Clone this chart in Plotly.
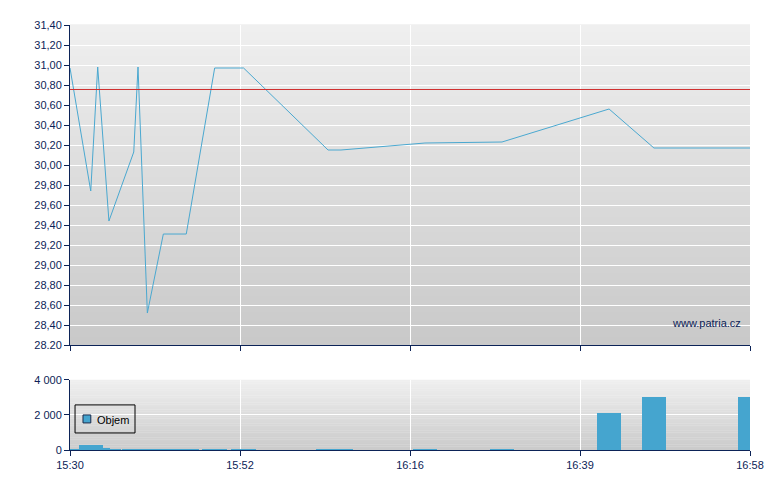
import plotly.graph_objects as go
from plotly.subplots import make_subplots

# x positions in axis units (0..4 correspond to the tick labels below)
pos = [0.000, 0.122, 0.163, 0.229, 0.375, 0.400, 0.455, 0.549, 0.684,
       0.851, 1.021, 1.518, 1.594, 2.088, 2.541, 3.171, 3.435, 4.000]
price = [30.97, 29.74, 30.98, 29.44, 30.13, 30.98, 28.52, 29.31, 29.31,
         30.97, 30.97, 30.15, 30.15, 30.22, 30.23, 30.56, 30.17, 30.17]
volume = [50, 290, 110, 50, 50, 50, 50, 50, 50,
          50, 50, 50, 50, 50, 50, 2130, 3050, 3050]
ref_price = 30.755

x_tickvals = [0, 1, 2, 3, 4]
x_ticktext = ["15:30", "15:52", "16:16", "16:39", "16:58"]
y_tickvals = [28.2, 28.4, 28.6, 28.8, 29.0, 29.2, 29.4, 29.6, 29.8,
              30.0, 30.2, 30.4, 30.6, 30.8, 31.0, 31.2, 31.4]
y_ticktext = ["28.20", "28,40", "28,60", "28,80", "29,00", "29,20", "29,40",
              "29,60", "29,80", "30,00", "30,20", "30,40", "30,60", "30,80",
              "31,00", "31,20", "31,40"]
v_tickvals = [0, 2000, 4000]
v_ticktext = ["0", "2 000", "4 000"]
legend_label = "Objem"

NAVY = "#0c2357"
LINE = "#4aa8d0"
BAR = "#45a5cf"

fig = make_subplots(rows=2, cols=1, row_heights=[0.835, 0.165],
                    vertical_spacing=0.0, shared_xaxes=False)

fig.add_trace(go.Scatter(x=pos, y=price, mode="lines",
                         line=dict(color=LINE, width=1), showlegend=False),
              row=1, col=1)
fig.add_trace(go.Scatter(x=[0, 4], y=[ref_price, ref_price], mode="lines",
                         line=dict(color="#d03030", width=1), showlegend=False),
              row=1, col=1)
fig.add_trace(go.Bar(x=pos, y=volume, width=0.144, name=legend_label,
                     marker=dict(color=BAR, line=dict(width=0)),
                     showlegend=False),
              row=2, col=1)

# gradient backgrounds
def gradient(xref, yref, top, bottom, n=40):
    for i in range(n):
        t = i / (n - 1)
        c = [round(top[k] + (bottom[k] - top[k]) * t) for k in range(3)]
        fig.add_shape(type="rect", xref=xref, yref=yref,
                      x0=0, x1=1, y0=1 - (i + 1) / n, y1=1 - i / n + 0.002,
                      fillcolor="rgb(%d,%d,%d)" % tuple(c),
                      line=dict(width=0), layer="below")

gradient("x domain", "y domain", (239, 239, 239), (201, 201, 201))
gradient("x2 domain", "y2 domain", (239, 239, 239), (203, 203, 203))

font = dict(family="Liberation Sans, Arial, sans-serif", size=11, color=NAVY)

fig.update_layout(
    width=780, height=490,
    margin=dict(l=62, r=38, t=17, b=48),
    paper_bgcolor="white", plot_bgcolor="rgba(0,0,0,0)",
    font=font, barmode="overlay", bargap=0, showlegend=False,
)

fig.update_layout(
    yaxis=dict(domain=[0.247, 1.0]),
    yaxis2=dict(domain=[0.0, 0.165]),
)

axis_common = dict(showline=True, linecolor=NAVY, linewidth=1,
                   ticks="outside", ticklen=5, tickcolor=NAVY,
                   gridcolor="white", gridwidth=1, zeroline=False,
                   tickfont=font, mirror=False)

fig.update_xaxes(range=[0, 4], tickvals=x_tickvals, ticktext=x_ticktext,
                 **axis_common)
fig.update_xaxes(showticklabels=False, row=1, col=1)
fig.update_yaxes(**axis_common)
fig.update_yaxes(range=[28.2, 31.4], tickvals=y_tickvals, ticktext=y_ticktext,
                 row=1, col=1)
fig.update_yaxes(range=[0, 4000], tickvals=v_tickvals, ticktext=v_ticktext,
                 row=2, col=1)

# legend box (drawn manually to match the compact original)
fig.add_shape(type="rect", xref="x2 domain", yref="y2 domain",
              x0=0.0074, x1=0.0956, y0=0.243, y1=0.643,
              line=dict(color="#000000", width=1), fillcolor="rgba(0,0,0,0)")
fig.add_shape(type="rect", xref="x2 domain", yref="y2 domain",
              x0=0.0191, x1=0.0306, y0=0.386, y1=0.5,
              line=dict(color="#1a2a4a", width=1), fillcolor=BAR)
fig.add_annotation(text=legend_label, xref="x2 domain", yref="y2 domain",
                   x=0.0365, y=0.43, xanchor="left", yanchor="middle",
                   showarrow=False, font=dict(family=font["family"], size=11,
                                              color="#000000"))

fig.add_annotation(text="www.patria.cz", xref="paper", yref="paper",
                   x=0.99, y=0.299, xanchor="right", yanchor="middle",
                   showarrow=False, font=font)

fig.write_html("out.html", config={"displayModeBar": False})
